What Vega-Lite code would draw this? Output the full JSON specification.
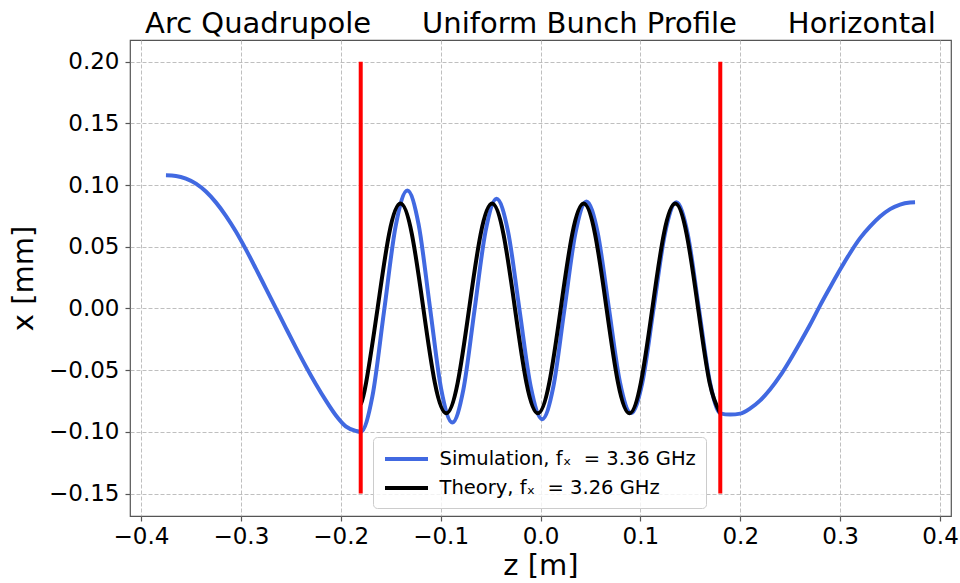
{
  "$schema": "https://vega.github.io/schema/vega-lite/v6.json",
  "width": 821,
  "height": 476,
  "autosize": {"type": "none"},
  "padding": {"left": 130, "top": 40, "right": 9, "bottom": 67},
  "background": "white",
  "title": {
    "text": "Arc Quadrupole\u00a0\u00a0\u00a0\u00a0\u00a0\u2006Uniform Bunch Profile\u00a0\u00a0\u00a0\u00a0\u00a0\u2006Horizontal",
    "fontSize": 29,
    "font": "DejaVu Sans",
    "fontWeight": "normal",
    "color": "#000000",
    "anchor": "middle",
    "baseline": "alphabetic",
    "offset": -22
  },
  "config": {
    "font": "DejaVu Sans",
    "view": {"stroke": "#555555", "strokeWidth": 1.2},
    "axis": {
      "grid": true,
      "gridColor": "#b8b8b8",
      "gridDash": [4, 2],
      "gridWidth": 0.9,
      "domain": false,
      "tickColor": "#555555",
      "tickSize": 5,
      "tickWidth": 1.2,
      "labelFont": "DejaVu Sans",
      "labelFontSize": 23,
      "labelColor": "#000000",
      "titleFont": "DejaVu Sans",
      "titleFontSize": 29,
      "titleFontWeight": "normal",
      "titleColor": "#000000"
    }
  },
  "datasets": {
    "sim": [
      {"s": "sim", "z": -0.375, "x": 0.1079},
      {"s": "sim", "z": -0.365, "x": 0.1074},
      {"s": "sim", "z": -0.355, "x": 0.1053},
      {"s": "sim", "z": -0.345, "x": 0.1012},
      {"s": "sim", "z": -0.335, "x": 0.0948},
      {"s": "sim", "z": -0.325, "x": 0.086},
      {"s": "sim", "z": -0.315, "x": 0.0751},
      {"s": "sim", "z": -0.305, "x": 0.0624},
      {"s": "sim", "z": -0.295, "x": 0.0479},
      {"s": "sim", "z": -0.285, "x": 0.0323},
      {"s": "sim", "z": -0.275, "x": 0.0163},
      {"s": "sim", "z": -0.265, "x": 0.0003},
      {"s": "sim", "z": -0.255, "x": -0.0157},
      {"s": "sim", "z": -0.245, "x": -0.0315},
      {"s": "sim", "z": -0.235, "x": -0.0468},
      {"s": "sim", "z": -0.225, "x": -0.0612},
      {"s": "sim", "z": -0.215, "x": -0.0745},
      {"s": "sim", "z": -0.205, "x": -0.0865},
      {"s": "sim", "z": -0.195, "x": -0.0955},
      {"s": "sim", "z": -0.185, "x": -0.0992},
      {"s": "sim", "z": -0.18, "x": -0.1},
      {"s": "sim", "z": -0.16833, "x": -0.0713},
      {"s": "sim", "z": -0.15665, "x": -0.0022},
      {"s": "sim", "z": -0.14498, "x": 0.0669},
      {"s": "sim", "z": -0.1333, "x": 0.0956},
      {"s": "sim", "z": -0.12205, "x": 0.0681},
      {"s": "sim", "z": -0.1108, "x": 0.0016},
      {"s": "sim", "z": -0.09955, "x": -0.0649},
      {"s": "sim", "z": -0.0883, "x": -0.0924},
      {"s": "sim", "z": -0.07723, "x": -0.0658},
      {"s": "sim", "z": -0.06615, "x": -0.0018},
      {"s": "sim", "z": -0.05508, "x": 0.0623},
      {"s": "sim", "z": -0.044, "x": 0.0889},
      {"s": "sim", "z": -0.03258, "x": 0.0627},
      {"s": "sim", "z": -0.02115, "x": -0.0004},
      {"s": "sim", "z": -0.00973, "x": -0.0635},
      {"s": "sim", "z": 0.0017, "x": -0.0897},
      {"s": "sim", "z": 0.01278, "x": -0.0638},
      {"s": "sim", "z": 0.02385, "x": -0.0015},
      {"s": "sim", "z": 0.03493, "x": 0.0609},
      {"s": "sim", "z": 0.046, "x": 0.0868},
      {"s": "sim", "z": 0.05718, "x": 0.0617},
      {"s": "sim", "z": 0.06835, "x": 0.001},
      {"s": "sim", "z": 0.07953, "x": -0.0597},
      {"s": "sim", "z": 0.0907, "x": -0.0848},
      {"s": "sim", "z": 0.10203, "x": -0.0598},
      {"s": "sim", "z": 0.11335, "x": 0.0006},
      {"s": "sim", "z": 0.12468, "x": 0.061},
      {"s": "sim", "z": 0.136, "x": 0.086},
      {"s": "sim", "z": 0.14725, "x": 0.0609},
      {"s": "sim", "z": 0.1585, "x": 0.0004},
      {"s": "sim", "z": 0.16975, "x": -0.0601},
      {"s": "sim", "z": 0.18, "x": -0.085},
      {"s": "sim", "z": 0.19, "x": -0.086},
      {"s": "sim", "z": 0.2, "x": -0.0852},
      {"s": "sim", "z": 0.21, "x": -0.081},
      {"s": "sim", "z": 0.22, "x": -0.0745},
      {"s": "sim", "z": 0.23, "x": -0.0655},
      {"s": "sim", "z": 0.24, "x": -0.0545},
      {"s": "sim", "z": 0.25, "x": -0.0415},
      {"s": "sim", "z": 0.26, "x": -0.0275},
      {"s": "sim", "z": 0.27, "x": -0.013},
      {"s": "sim", "z": 0.28, "x": 0.0025},
      {"s": "sim", "z": 0.29, "x": 0.0172},
      {"s": "sim", "z": 0.3, "x": 0.0315},
      {"s": "sim", "z": 0.31, "x": 0.045},
      {"s": "sim", "z": 0.32, "x": 0.057},
      {"s": "sim", "z": 0.33, "x": 0.0665},
      {"s": "sim", "z": 0.34, "x": 0.0745},
      {"s": "sim", "z": 0.35, "x": 0.0805},
      {"s": "sim", "z": 0.36, "x": 0.0842},
      {"s": "sim", "z": 0.37, "x": 0.0858},
      {"s": "sim", "z": 0.375, "x": 0.086}
    ],
    "theory": [
      {"s": "theory", "z": -0.18, "x": -0.0777},
      {"s": "theory", "z": -0.17459, "x": -0.0601},
      {"s": "theory", "z": -0.16313, "x": 0},
      {"s": "theory", "z": -0.15166, "x": 0.0601},
      {"s": "theory", "z": -0.1402, "x": 0.085},
      {"s": "theory", "z": -0.12874, "x": 0.0601},
      {"s": "theory", "z": -0.11728, "x": 0},
      {"s": "theory", "z": -0.10581, "x": -0.0601},
      {"s": "theory", "z": -0.09435, "x": -0.085},
      {"s": "theory", "z": -0.08289, "x": -0.0601},
      {"s": "theory", "z": -0.07143, "x": 0},
      {"s": "theory", "z": -0.05996, "x": 0.0601},
      {"s": "theory", "z": -0.0485, "x": 0.085},
      {"s": "theory", "z": -0.03704, "x": 0.0601},
      {"s": "theory", "z": -0.02558, "x": 0},
      {"s": "theory", "z": -0.01411, "x": -0.0601},
      {"s": "theory", "z": -0.00265, "x": -0.085},
      {"s": "theory", "z": 0.00881, "x": -0.0601},
      {"s": "theory", "z": 0.02027, "x": 0},
      {"s": "theory", "z": 0.03174, "x": 0.0601},
      {"s": "theory", "z": 0.0432, "x": 0.085},
      {"s": "theory", "z": 0.05466, "x": 0.0601},
      {"s": "theory", "z": 0.06612, "x": 0},
      {"s": "theory", "z": 0.07759, "x": -0.0601},
      {"s": "theory", "z": 0.08905, "x": -0.085},
      {"s": "theory", "z": 0.10051, "x": -0.0601},
      {"s": "theory", "z": 0.11197, "x": 0},
      {"s": "theory", "z": 0.12344, "x": 0.0601},
      {"s": "theory", "z": 0.1349, "x": 0.085},
      {"s": "theory", "z": 0.14636, "x": 0.0601},
      {"s": "theory", "z": 0.15782, "x": 0},
      {"s": "theory", "z": 0.16929, "x": -0.0601},
      {"s": "theory", "z": 0.18, "x": -0.0849}
    ],
    "rules": [
      {"z": -0.18, "lo": -0.15, "hi": 0.2},
      {"z": 0.18, "lo": -0.15, "hi": 0.2}
    ]
  },
  "encoding": {
    "x": {
      "field": "z",
      "type": "quantitative",
      "scale": {"domain": [-0.411, 0.411], "nice": false, "zero": false},
      "axis": {
        "title": "z [m]",
        "values": [-0.4, -0.3, -0.2, -0.1, 0, 0.1, 0.2, 0.3, 0.4],
        "format": ".1f",
        "labelPadding": 4,
        "titlePadding": 3
      }
    }
  },
  "layer": [
    {
      "data": {"name": "sim"},
      "mark": {"type": "line", "strokeWidth": 4, "interpolate": "monotone"},
      "encoding": {
        "y": {
          "field": "x",
          "type": "quantitative",
          "scale": {"domain": [-0.1682, 0.2176], "nice": false, "zero": false},
          "axis": {
            "title": "x [mm]",
            "values": [-0.15, -0.1, -0.05, 0, 0.05, 0.1, 0.15, 0.2],
            "format": ".2f",
            "labelPadding": 6,
            "titlePadding": 10
          }
        },
        "color": {
          "field": "s",
          "type": "nominal",
          "scale": {"domain": ["sim", "theory"], "range": ["#4169e1", "#000000"]},
          "legend": {
            "title": null,
            "orient": "none",
            "legendX": 243,
            "legendY": 397,
            "symbolType": "M-2.15,0H2.15",
            "symbolSize": 400,
            "symbolOffset": 11.5,
            "symbolStrokeWidth": 4,
            "labelFont": "DejaVu Sans",
            "labelFontSize": 19.5,
            "labelColor": "#000000",
            "labelOffset": 21,
            "labelLimit": 400,
            "rowPadding": 7,
            "padding": 10,
            "fillColor": "rgba(255,255,255,0.8)",
            "strokeColor": "#cccccc",
            "cornerRadius": 4,
            "labelExpr": "datum.label == 'sim' ? 'Simulation, f\u2093\u00a0 = 3.36 GHz' : 'Theory, f\u2093\u00a0 = 3.26 GHz'"
          }
        }
      }
    },
    {
      "data": {"name": "theory"},
      "mark": {"type": "line", "strokeWidth": 4, "interpolate": "natural"},
      "encoding": {
        "y": {"field": "x", "type": "quantitative"},
        "color": {"field": "s", "type": "nominal"}
      }
    },
    {
      "data": {"name": "rules"},
      "mark": {"type": "rule", "color": "#ff0000", "strokeWidth": 4},
      "encoding": {
        "y": {"field": "lo", "type": "quantitative"},
        "y2": {"field": "hi"}
      }
    }
  ]
}
